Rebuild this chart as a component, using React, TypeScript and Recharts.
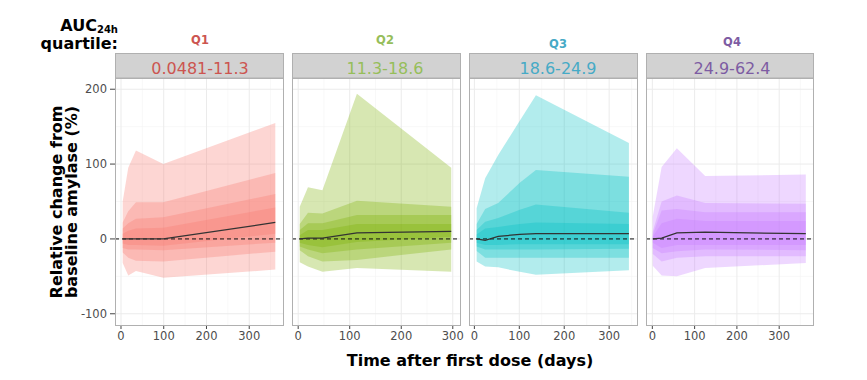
import { ComposedChart, Area, Line, XAxis, YAxis, CartesianGrid, ReferenceLine } from "recharts";

// quartile panels
const quartiles = ["Q1", "Q2", "Q3", "Q4"];
const ranges = ["0.0481-11.3", "11.3-18.6", "18.6-24.9", "24.9-62.4"];
const fills = ["#F8766D", "#7CAE00", "#00BFC4", "#C77CFF"];
const labelColors = ["#cc5550", "#96be5a", "#46aac6", "#7d5ca3"];

const xTicks = [0, 100, 200, 300];
const yTicks = [-100, 0, 100, 200];

// Q1
const q1Days = [4, 17, 35, 99, 361];
const q1Median = [0, 0, 0, 0, 22];
const q1Lo = [
  [-32, -49, -43, -52, -41],
  [-18, -25, -29, -30, -17],
  [-12, -14, -14, -15, -5],
  [-6, -8, -8, -9, 7],
];
const q1Hi = [
  [50, 95, 118, 100, 155],
  [22, 37, 49, 49, 88],
  [14, 21, 27, 29, 60],
  [7, 11, 14, 15, 42],
];

// Q2
const q2Days = [3, 19, 47, 114, 297];
const q2Median = [0, 1, 1, 8, 10];
const q2Lo = [
  [-31, -37, -44, -39, -44],
  [-15, -23, -30, -28, -14],
  [-10, -14, -19, -14, -5],
  [-5, -8, -11, -4, 3],
];
const q2Hi = [
  [43, 69, 65, 194, 95],
  [20, 35, 34, 51, 43],
  [12, 21, 21, 32, 32],
  [5, 12, 12, 20, 20],
];

// Q3
const q3Days = [5, 24, 53, 101, 137, 344];
const q3Median = [0, -2, 3.5, 6, 7, 7];
const q3Lo = [
  [-30, -37, -38, -44, -48, -42],
  [-16, -25, -25, -25, -25, -25],
  [-10, -14, -14, -14, -14, -13],
  [-5, -8, -8, -7, -7, -7],
];
const q3Hi = [
  [41, 81, 112, 158, 192, 128],
  [20, 40, 48, 75, 92, 83],
  [12, 23, 28, 39, 46, 35],
  [6, 14, 16, 20, 22, 20],
];

// Q4
const q4Days = [1, 22, 58, 125, 363];
const q4Median = [0, 1, 8, 9, 7];
const q4Lo = [
  [-36, -49, -50, -39, -32],
  [-20, -30, -25, -23, -23],
  [-12, -19, -16.5, -14, -15],
  [-5, -12, -8, -8, -8],
];
const q4Hi = [
  [30, 96, 121, 84, 86],
  [10, 50, 58, 48, 47],
  [6, 38, 40, 35.5, 35.5],
  [3, 21, 27, 24, 24],
];

const allDays = [q1Days, q2Days, q3Days, q4Days];
const allMedian = [q1Median, q2Median, q3Median, q4Median];
const allLo = [q1Lo, q2Lo, q3Lo, q4Lo];
const allHi = [q1Hi, q2Hi, q3Hi, q4Hi];
const xDomains = [[-14, 379], [-12, 314], [-12, 362], [-15, 380]];

const panelLeft = [115, 292, 469, 646];
const panelWidth = [168, 168, 168, 167];
const labelCenter = [200, 385, 558, 732];
const qLabelY = [40, 40, 44, 42];
const plotTop = 78;
const plotH = 247;
const padRight = 16;
const font = "'DejaVu Sans', Verdana, sans-serif";

function Panel({ i }: { i: number }) {
  const rows = allDays[i].map((t, k) => ({
    t,
    b1: [allLo[i][0][k], allHi[i][0][k]],
    b2: [allLo[i][1][k], allHi[i][1][k]],
    b3: [allLo[i][2][k], allHi[i][2][k]],
    b4: [allLo[i][3][k], allHi[i][3][k]],
    med: allMedian[i][k],
  }));
  const yw = i === 0 ? 35 : 0;
  return (
    <div style={{ position: "absolute", left: panelLeft[i] - yw, top: plotTop }}>
      <ComposedChart
        width={panelWidth[i] + yw + padRight}
        height={plotH + 30}
        data={rows}
        margin={{ top: 0, right: padRight, bottom: 0, left: 0 }}
        style={{ fontFamily: font }}
      >
        <CartesianGrid
          stroke="#f4f4f4"
          strokeWidth={0.6}
          horizontalValues={[-50, 50, 150]}
          verticalValues={[50, 150, 250, 350]}
        />
        <CartesianGrid stroke="#ebebeb" horizontalValues={yTicks} verticalValues={xTicks} />
        <XAxis
          type="number"
          dataKey="t"
          domain={xDomains[i]}
          ticks={xTicks}
          interval={0}
          allowDataOverflow
          height={30}
          axisLine={false}
          tickSize={4}
          tickMargin={3}
          tickLine={{ stroke: "#444" }}
          tick={{ fill: "#4d4d4d", fontSize: 11.5 }}
        />
        <YAxis
          type="number"
          domain={[-115, 215]}
          ticks={yTicks}
          interval={0}
          allowDataOverflow
          hide={i !== 0}
          width={35}
          axisLine={false}
          tickSize={5}
          tickMargin={3}
          tickLine={{ stroke: "#444" }}
          tick={{ fill: "#4d4d4d", fontSize: 11.5 }}
        />
        {["b1", "b2", "b3", "b4"].map((k) => (
          <Area
            key={k}
            type="linear"
            dataKey={k}
            stroke="none"
            fill={fills[i]}
            fillOpacity={0.3}
            isAnimationActive={false}
          />
        ))}
        <ReferenceLine y={0} stroke="#111" strokeDasharray="4 3" />
        <Line
          type="linear"
          dataKey="med"
          stroke="#333"
          strokeWidth={1.2}
          dot={false}
          isAnimationActive={false}
        />
      </ComposedChart>
    </div>
  );
}

export default function App() {
  return (
    <div style={{ position: "absolute", left: 0, top: 0, width: 867, height: 380, background: "#fff" }}>
      {quartiles.map((_, i) => (
        <Panel key={i} i={i} />
      ))}
      <svg
        width={867}
        height={380}
        style={{ position: "absolute", left: 0, top: 0, pointerEvents: "none", fontFamily: font }}
      >
        {quartiles.map((q, i) => (
          <g key={q}>
            <rect x={panelLeft[i] + 0.5} y={53.5} width={panelWidth[i]} height={24.5} fill="#d2d2d2" stroke="#b0b0b0" />
            <rect x={panelLeft[i] + 0.5} y={plotTop + 0.5} width={panelWidth[i]} height={plotH} fill="none" stroke="#b0b0b0" />
            <text x={labelCenter[i]} y={73.5} textAnchor="middle" fontSize={16} fill={labelColors[i]}>
              {ranges[i]}
            </text>
            <text x={labelCenter[i]} y={qLabelY[i] + 4} textAnchor="middle" fontSize={11.5} fontWeight="bold" fill={labelColors[i]}>
              {q}
            </text>
          </g>
        ))}
        <text x={118} y={31} textAnchor="end" fontSize={16} fontWeight="bold" fill="#000">
          AUC<tspan fontSize={10} dy={2}>24h</tspan>
        </text>
        <text x={118} y={49} textAnchor="end" fontSize={16} fontWeight="bold" fill="#000">
          quartile:
        </text>
        <text transform="translate(62,202) rotate(-90)" textAnchor="middle" fontSize={16} fontWeight="bold" fill="#000">
          <tspan x={0} dy={0}>Relative change from</tspan>
          <tspan x={0} dy={15}>baseline amylase (%)</tspan>
        </text>
        <text x={470} y={366} textAnchor="middle" fontSize={16} fontWeight="bold" fill="#000">
          Time after first dose (days)
        </text>
      </svg>
    </div>
  );
}
